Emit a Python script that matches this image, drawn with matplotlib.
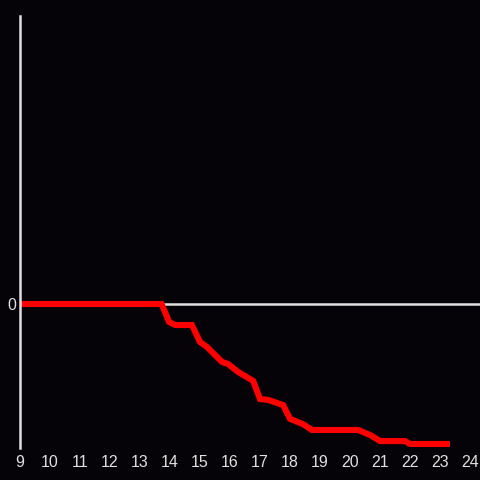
import matplotlib
matplotlib.use("Agg")
import matplotlib.pyplot as plt

# hour of day vs. cumulative change (arbitrary units)
hours = [9.0, 13.72, 13.97, 14.17, 14.73, 15.0, 15.23, 15.73, 15.93, 16.27,
         16.77, 17.0, 17.27, 17.77, 18.0, 18.43, 18.73, 20.27, 20.67, 21.0,
         21.83, 22.0, 23.33]
values = [0.0, 0.0, -6.25, -7.3, -7.3, -13.2, -14.9, -20.1, -20.8, -23.6,
          -26.7, -33.0, -33.3, -35.1, -39.9, -41.7, -43.75, -43.75, -45.5, -47.6,
          -47.6, -48.6, -48.6]
xticks = list(range(9, 25))

bg = "#050308"
axis_col = "#e0e0e0"

plt.rcParams['font.family'] = ['Liberation Sans', 'DejaVu Sans']

fig = plt.figure(figsize=(4.8, 4.8), dpi=100, facecolor=bg)
ax = fig.add_axes([20 / 480, 32 / 480, 460 / 480, 432 / 480])
ax.set_facecolor(bg)

ax.axhline(0, color=axis_col, lw=1.8, zorder=1)
ax.plot(hours, values, color="#ff0000", lw=4.4, solid_joinstyle="miter",
        solid_capstyle="butt", zorder=2)

ax.set_xlim(9, 24.33)
ax.set_ylim(-50, 100)
ax.set_xticks(xticks)
ax.set_xticklabels([str(t) for t in xticks])
ax.set_yticks([0])
ax.set_yticklabels(["0"])
ax.tick_params(length=0, colors=axis_col, labelsize=11.5)
ax.tick_params(axis="x", pad=5)
ax.tick_params(axis="y", pad=3)

for s in ["top", "right", "bottom"]:
    ax.spines[s].set_visible(False)
ax.spines["left"].set_color(axis_col)
ax.spines["left"].set_linewidth(1.8)

fig.savefig("out.png", dpi=100, facecolor=bg)
